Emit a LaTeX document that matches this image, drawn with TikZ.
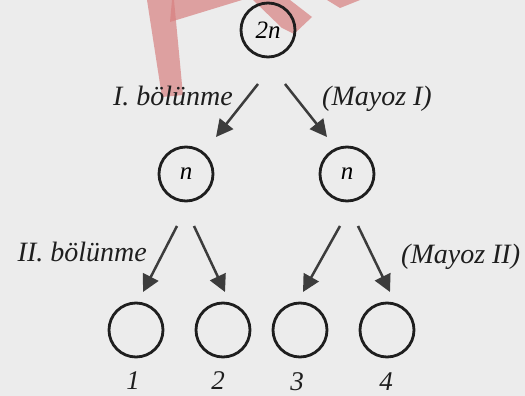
\documentclass[tikz,border=0pt]{standalone}
\usepackage{fontspec}
\setmainfont{Liberation Serif}
\usetikzlibrary{arrows.meta}
\definecolor{paper}{RGB}{236,236,236}
\definecolor{ink}{RGB}{30,30,30}
\definecolor{arrowink}{RGB}{60,60,60}
\definecolor{stamp}{RGB}{216,128,128}
\tikzset{
  cell/.style={circle, draw=ink, line width=2.8pt, minimum size=54pt, inner sep=0pt,
               font=\fontsize{25}{25}\selectfont\itshape},
  split/.style={draw=arrowink, line width=2.5pt,
                -{Triangle[length=17pt,width=17pt]}},
  lbl/.style={font=\fontsize{28}{28}\selectfont\itshape, text=ink, inner sep=0pt},
  num/.style={font=\fontsize{27}{27}\selectfont\itshape, text=ink, inner sep=0pt}
}
\begin{document}
\begin{tikzpicture}[x=1pt,y=-1pt]
\useasboundingbox (0,0) rectangle (525,396);
\fill[paper] (0,0) rectangle (525,396);

% stamp marks in the top corner
\begin{scope}[fill=stamp, fill opacity=0.7]
  \fill (147,0) -- (174,0) -- (183,95) -- (162,97) -- cycle;
  \fill (172,0) -- (242,0) -- (170,22) -- cycle;
  \fill (253,0) -- (290,0) -- (312,17) -- (294,34) -- (282,28) -- cycle;
  \fill (327,0) -- (360,0) -- (340,8) -- cycle;
\end{scope}

% cells
\node[cell] (top) at (268,30) {2n};
\node[cell] (ml) at (186,174) {n};
\node[cell] (mr) at (347,174) {n};
\node[cell] (b1) at (136,330) {};
\node[cell] (b2) at (223,330) {};
\node[cell] (b3) at (300,330) {};
\node[cell] (b4) at (387,330) {};

% arrow ends
\coordinate (t1s) at (258,84);  \coordinate (t1e) at (216,137);
\coordinate (t2s) at (285,84);  \coordinate (t2e) at (327,137);
\coordinate (l1s) at (177,226); \coordinate (l1e) at (143,292);
\coordinate (l2s) at (194,226); \coordinate (l2e) at (225,292);
\coordinate (r1s) at (340,226); \coordinate (r1e) at (303,292);
\coordinate (r2s) at (358,226); \coordinate (r2e) at (390,292);

\draw[split] (t1s) -- (t1e);
\draw[split] (t2s) -- (t2e);
\draw[split] (l1s) -- (l1e);
\draw[split] (l2s) -- (l2e);
\draw[split] (r1s) -- (r1e);
\draw[split] (r2s) -- (r2e);

% labels
\node[lbl, anchor=east] (lab1) at (233,96) {I. bölünme};
\node[lbl, anchor=west] (lab2) at (322,99) {(Mayoz I)};
\node[lbl, anchor=east] (lab3) at (147,252) {II. bölünme};
\node[lbl, anchor=west] (lab4) at (401,257) {(Mayoz II)};

\node[num] (n1) at (133,381) {1};
\node[num] (n2) at (218,381) {2};
\node[num] (n3) at (297,382) {3};
\node[num] (n4) at (386,382) {4};
\end{tikzpicture}
\end{document}
